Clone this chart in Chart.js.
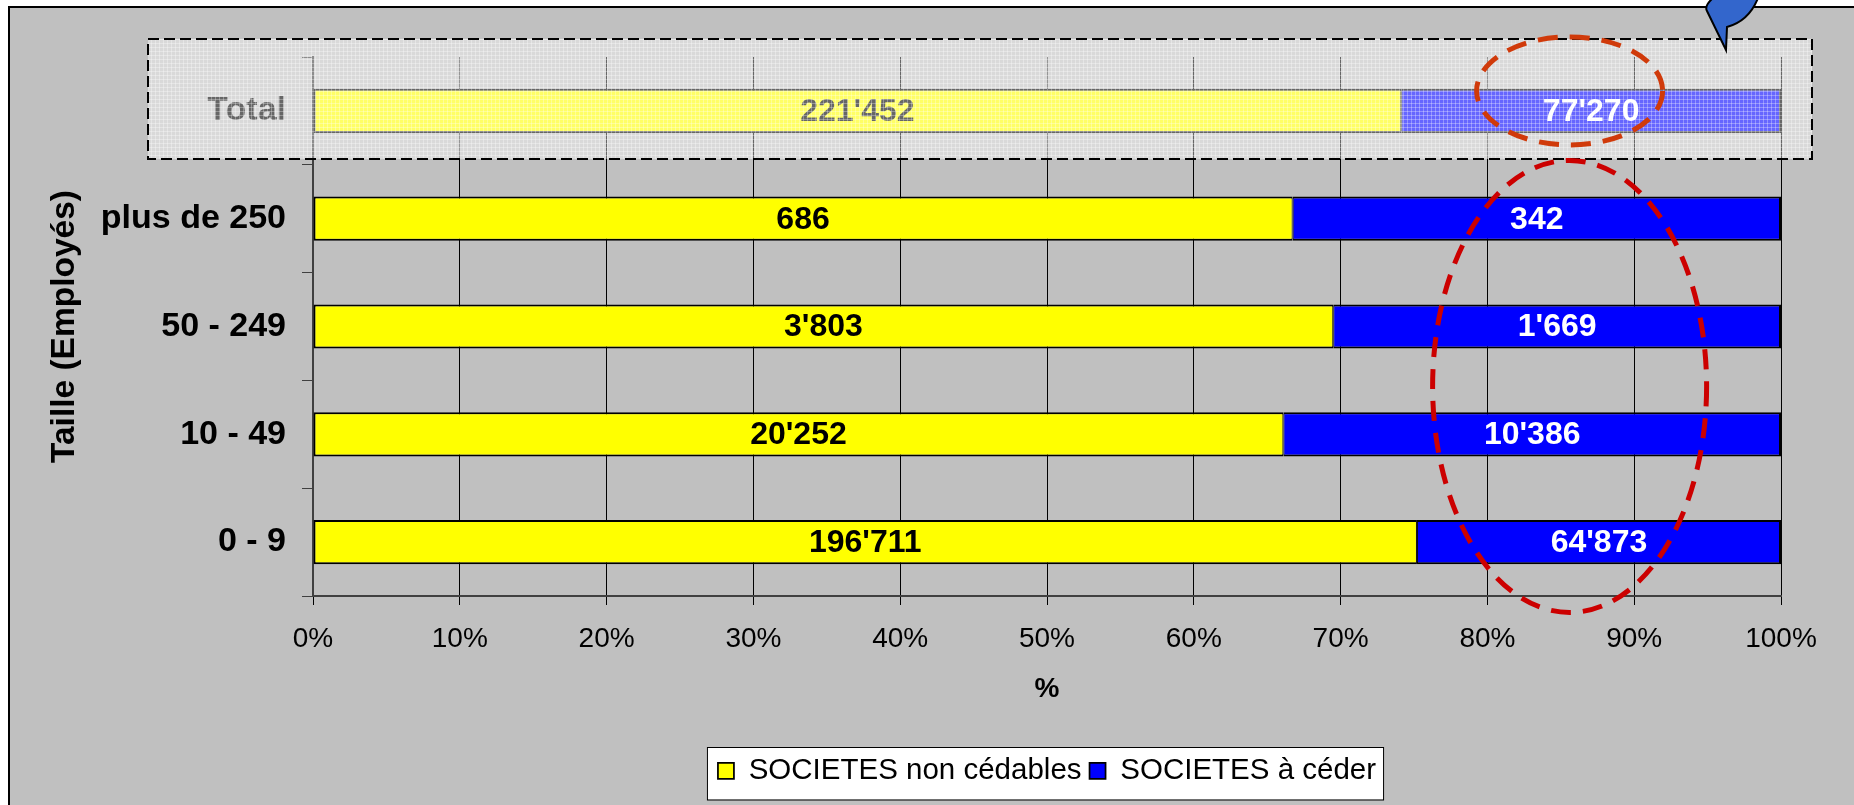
<!DOCTYPE html>
<html>
<head>
<meta charset="utf-8">
<script src="https://cdn.jsdelivr.net/npm/chart.js@4.4.1/dist/chart.umd.min.js"></script>
<style>
  html, body { margin: 0; padding: 0; background: #fff; }
  canvas { display: block; }
</style>
</head>
<body>
<canvas id="chart" width="1854" height="805"></canvas>
<script>
const categories = ['Total', 'plus de 250', '50 - 249', '10 - 49', '0 - 9']
const nonCedables = [221452, 686, 3803, 20252, 196711]
const aCeder = [77270, 342, 1669, 10386, 64873]
const seriesNames = ['SOCIETES non cédables', 'SOCIETES à céder']
const xTickValues = [0, 10, 20, 30, 40, 50, 60, 70, 80, 90, 100]

const FONT = '"Liberation Sans", Arial, sans-serif'
Chart.defaults.font.family = FONT
Chart.defaults.color = '#000'

const totals = categories.map((c, i) => nonCedables[i] + aCeder[i])
const toPct = (arr) => arr.map((v, i) => (v / totals[i]) * 100)
const fmt = (v) => String(v).replace(/\B(?=(\d{3})+(?!\d))/g, "'")

// fine light hatch used on the highlighted "Total" row
const pat = document.createElement('canvas')
pat.width = 4
pat.height = 4
const pctx = pat.getContext('2d')
pctx.fillStyle = 'rgba(255,255,255,0.40)'
pctx.fillRect(0, 0, 4, 4)
pctx.fillStyle = 'rgba(255,255,255,0.30)'
pctx.fillRect(3, 0, 1, 4)
pctx.fillRect(0, 3, 4, 1)

const background = {
  id: 'background',
  beforeDraw(chart) {
    const { ctx, width, height } = chart
    ctx.save()
    ctx.fillStyle = '#fff'
    ctx.fillRect(0, 0, width, height)
    ctx.fillStyle = '#C0C0C0'
    ctx.fillRect(9, 7, width - 9, height - 7)
    ctx.strokeStyle = '#000'
    ctx.lineWidth = 2
    ctx.beginPath()
    ctx.moveTo(9, height)
    ctx.lineTo(9, 7)
    ctx.lineTo(width, 7)
    ctx.stroke()

    // white framed legend box
    const hb = chart.legend.legendHitBoxes
    if (hb && hb.length) {
      const last = hb[hb.length - 1]
      const l = hb[0].left - 11
      const r = last.left + last.width + 7
      const t = hb[0].top - 9
      const b = hb[0].top + hb[0].height + 14
      ctx.fillStyle = '#fff'
      ctx.fillRect(l, t, r - l, b - t)
      ctx.lineWidth = 1
      ctx.strokeStyle = '#000'
      ctx.strokeRect(l + 0.5, t + 0.5, r - l, b - t)
    }
    ctx.restore()
  },
}

const valueLabels = {
  id: 'valueLabels',
  afterDatasetsDraw(chart) {
    const { ctx } = chart
    ctx.save()
    ctx.font = 'bold 32px ' + FONT
    ctx.textAlign = 'center'
    ctx.textBaseline = 'middle'
    chart.data.datasets.forEach((ds, di) => {
      chart.getDatasetMeta(di).data.forEach((bar, i) => {
        ctx.fillStyle = ds.labelColor
        ctx.fillText(fmt(ds.counts[i]), (bar.x + bar.base) / 2, bar.y + 1)
      })
    })
    ctx.restore()
  },
}

const highlights = {
  id: 'highlights',
  afterDraw(chart) {
    const { ctx, chartArea } = chart
    const y = chart.scales.y
    const x = chart.scales.x
    const totalY = y.getPixelForValue(0)
    ctx.save()

    // overlay on the Total row
    const l = chartArea.left - 165
    const r = chartArea.right + 31
    const t = totalY - 72
    const b = totalY + 48
    ctx.fillStyle = ctx.createPattern(pat, 'repeat')
    ctx.fillRect(l, t, r - l, b - t)
    ctx.setLineDash([11, 5])
    ctx.lineWidth = 2
    ctx.strokeStyle = '#000'
    ctx.strokeRect(l, t, r - l, b - t)

    // red dashed ellipses
    const cx = x.getPixelForValue(85.6)
    ctx.lineWidth = 5
    ctx.setLineDash([20, 12])
    ctx.strokeStyle = '#D03A0A'
    ctx.beginPath()
    ctx.ellipse(cx, totalY - 20, 93, 54, 0, 0, Math.PI * 2)
    ctx.stroke()

    const midY = (y.getPixelForValue(1) + y.getPixelForValue(4)) / 2 + 6
    ctx.strokeStyle = '#CC0000'
    ctx.beginPath()
    ctx.ellipse(cx, midY, 137, 226, 0, 0, Math.PI * 2)
    ctx.stroke()

    // blue callout tail at the top
    ctx.setLineDash([])
    ctx.lineWidth = 2
    ctx.strokeStyle = '#000'
    ctx.fillStyle = '#3366CC'
    ctx.beginPath()
    ctx.moveTo(1713, -2)
    ctx.quadraticCurveTo(1704, 6, 1707, 11)
    ctx.lineTo(1726, 50)
    ctx.lineTo(1727, 27)
    ctx.quadraticCurveTo(1749, 21, 1758, -2)
    ctx.closePath()
    ctx.fill()
    ctx.stroke()
    ctx.restore()
  },
}

new Chart(document.getElementById('chart'), {
  type: 'bar',
  data: {
    labels: categories,
    datasets: [
      {
        label: seriesNames[0], data: toPct(nonCedables), counts: nonCedables,
        backgroundColor: '#FFFF00', borderColor: '#000',
        borderWidth: { left: 2, right: 1, top: 2, bottom: 2 }, borderSkipped: false,
        barPercentage: 0.41, categoryPercentage: 1, labelColor: '#000',
      },
      {
        label: seriesNames[1], data: toPct(aCeder), counts: aCeder,
        backgroundColor: '#0000FF', borderColor: '#000',
        borderWidth: { left: 1, right: 2, top: 2, bottom: 2 }, borderSkipped: false,
        barPercentage: 0.41, categoryPercentage: 1, labelColor: '#fff',
      },
    ],
  },
  options: {
    indexAxis: 'y',
    responsive: false,
    animation: false,
    layout: { padding: { top: 57, right: 73, bottom: 9.5, left: 0 } },
    plugins: {
      legend: {
        position: 'bottom',
        fullSize: false,
        labels: { boxWidth: 16, boxHeight: 16, padding: 8, color: '#000', font: { size: 29.5 } },
      },
      tooltip: { enabled: false },
    },
    scales: {
      x: {
        stacked: true,
        min: 0,
        max: 100,
        afterBuildTicks: (s) => { s.ticks = xTickValues.map((v) => ({ value: v })) },
        afterFit: (s) => { s.height = 152 },
        grid: { color: '#000', lineWidth: 1, tickLength: 9, tickColor: '#000' },
        border: { color: '#404040', width: 2 },
        ticks: { padding: 17, autoSkip: false, maxRotation: 0, font: { size: 28, lineHeight: 1.2 }, callback: (v) => v + '%' },
        title: { display: true, text: '%', font: { size: 28, weight: 'bold', lineHeight: 1.2 }, padding: { top: 0, bottom: 42 } },
      },
      y: {
        stacked: true,
        afterFit: (s) => { s.width = 313 },
        grid: { offset: true, drawOnChartArea: false, tickLength: 11, color: '#404040' },
        border: { color: '#404040', width: 2 },
        ticks: { padding: 16, font: { size: 34, weight: 'bold' } },
        title: {
          display: true, text: 'Taille (Employés)',
          font: { size: 33.5, weight: 'bold', lineHeight: 1.2 }, padding: { top: 45, bottom: 0 },
        },
      },
    },
  },
  plugins: [background, valueLabels, highlights],
})
</script>
</body>
</html>
